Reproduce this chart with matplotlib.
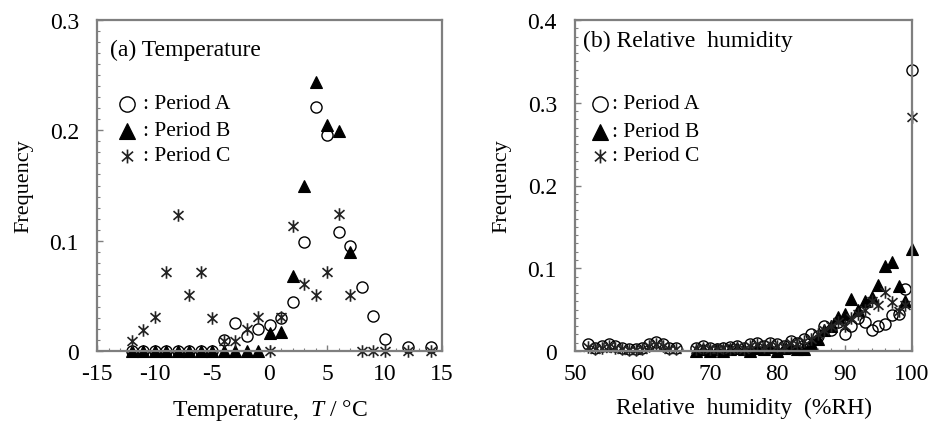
import matplotlib
matplotlib.use("Agg")
import matplotlib.pyplot as plt
import numpy as np
from matplotlib.path import Path
from matplotlib.ticker import MultipleLocator, FuncFormatter

plt.rcParams['font.family'] = ['Liberation Serif', 'DejaVu Serif']
plt.rcParams['axes.unicode_minus'] = False
plt.rcParams['mathtext.fontset'] = 'custom'
plt.rcParams['mathtext.it'] = 'Liberation Serif:italic'
plt.rcParams['mathtext.rm'] = 'Liberation Serif'

# ---------------- data: temperature ----------------
temp_x_A = [-12, -11, -10, -9, -8, -7, -6, -5, -4, -3, -2, -1, 0, 1, 2, 3, 4, 5, 6, 7, 8, 9, 10, 12, 14]
temp_A = [0, 0, 0, 0, 0, 0, 0, 0, 0.010, 0.025, 0.014, 0.020, 0.024, 0.030, 0.044, 0.099, 0.221, 0.196,
          0.108, 0.095, 0.058, 0.032, 0.011, 0.004, 0.004]
temp_x_B = [-12, -11, -10, -9, -8, -7, -6, -5, -4, -3, -2, -1, 0, 1, 2, 3, 4, 5, 6, 7]
temp_B = [0, 0, 0, 0, 0, 0, 0, 0, 0, 0, 0, 0, 0.016, 0.017, 0.068, 0.150, 0.244, 0.205, 0.199, 0.090]
temp_x_C = [-12, -11, -10, -9, -8, -7, -6, -5, -4, -3, -2, -1, 0, 1, 2, 3, 4, 5, 6, 7, 8, 9, 10, 12, 14]
temp_C = [0.009, 0.019, 0.031, 0.072, 0.123, 0.051, 0.072, 0.030, 0.009, 0.009, 0.020, 0.031, 0.0, 0.031,
          0.113, 0.061, 0.051, 0.072, 0.124, 0.051, 0, 0, 0, 0, 0]

# ---------------- data: relative humidity ----------------
rh_x_low = [52, 53, 54, 55, 56, 57, 58, 59, 60, 61, 62, 63, 64, 65]
rh_x_high = list(range(68, 101))
rh_A_low = [0.008, 0.004, 0.006, 0.009, 0.006, 0.004, 0.002, 0.002, 0.004, 0.008, 0.011, 0.008, 0.004, 0.004]
rh_C_low = [0.005, 0.002, 0.004, 0.006, 0.004, 0.002, 0.001, 0.001, 0.002, 0.006, 0.008, 0.006, 0.002, 0.002]
rh_A_high = [0.004, 0.006, 0.004, 0.003, 0.004, 0.005, 0.006, 0.004, 0.008, 0.010, 0.006, 0.010, 0.008,
             0.006, 0.012, 0.010, 0.014, 0.020, 0.018, 0.030, 0.025, 0.035, 0.020, 0.030, 0.040, 0.035,
             0.025, 0.030, 0.033, 0.043, 0.045, 0.075, 0.340]
rh_B_high = [0.0, 0.002, 0.0, 0.002, 0.0, 0.002, 0.004, 0.002, 0.0, 0.004, 0.002, 0.005, 0.0, 0.004,
             0.005, 0.002, 0.002, 0.010, 0.015, 0.025, 0.030, 0.041, 0.045, 0.063, 0.049, 0.060, 0.065,
             0.080, 0.103, 0.107, 0.079, 0.060, 0.123]
rh_C_high = [0.002, 0.004, 0.002, 0.003, 0.004, 0.003, 0.005, 0.003, 0.006, 0.008, 0.005, 0.008, 0.006,
             0.005, 0.010, 0.008, 0.012, 0.015, 0.020, 0.025, 0.030, 0.035, 0.030, 0.040, 0.045, 0.050,
             0.060, 0.055, 0.071, 0.059, 0.048, 0.055, 0.283]

legend_labels = [': Period A', ': Period B', ': Period C']

# custom asterisk marker (vertical + X)
ast = Path([(0, -1), (0, 1), (-0.8, -0.7), (0.8, 0.7), (-0.8, 0.7), (0.8, -0.7)],
           [Path.MOVETO, Path.LINETO, Path.MOVETO, Path.LINETO, Path.MOVETO, Path.LINETO])

styleA = dict(marker='o', ms=8, mfc='none', mec='black', mew=1.0, ls='none', clip_on=False)
styleB = dict(marker='^', ms=8.5, mfc='black', mec='black', mew=0.8, ls='none', clip_on=False)
styleC = dict(marker=ast, ms=9, mfc='none', mec='#222222', mew=1.2, ls='none', clip_on=False)

fig = plt.figure(figsize=(9.31, 4.35), dpi=100)
ax1 = fig.add_axes([97/931, 1-352/435, 345/931, 331/435])
ax2 = fig.add_axes([575/931, 1-352/435, 337/931, 331/435])

gray = '#7f7f7f'

def fmt(v, pos):
    if abs(v) < 1e-9:
        return '0'
    return ('%g' % round(v, 3))

for ax in (ax1, ax2):
    for s in ax.spines.values():
        s.set_color(gray)
        s.set_linewidth(1.6)
    ax.tick_params(which='both', direction='in', colors=gray, labelcolor='black', labelsize=17)
    ax.tick_params(which='major', length=4, width=1)
    ax.tick_params(which='minor', length=2.5, width=0.8)
    ax.tick_params(axis='y', pad=13)
    ax.tick_params(axis='x', pad=9)
    ax.yaxis.set_major_formatter(FuncFormatter(fmt))
    ax.set_ylabel('Frequency', fontsize=16, labelpad=12)

# ---- panel (a) ----
ax1.plot(temp_x_A, temp_A, **styleA)
ax1.plot(temp_x_B, temp_B, **styleB)
ax1.plot(temp_x_C, temp_C, **styleC)
ax1.set_xlim(-15, 15)
ax1.set_ylim(0, 0.3)
ax1.xaxis.set_major_locator(MultipleLocator(5))
ax1.xaxis.set_minor_locator(MultipleLocator(1))
ax1.yaxis.set_major_locator(MultipleLocator(0.1))
ax1.yaxis.set_minor_locator(MultipleLocator(0.01))
ax1.set_xlabel('Temperature,  $T$ / °C', fontsize=17, labelpad=9)
ax1.text(0.038, 0.912, '(a) Temperature', transform=ax1.transAxes, fontsize=17, va='center', ha='left')

# ---- panel (b) ----
ax2.plot(rh_x_low, rh_A_low, **styleA)
ax2.plot(rh_x_high, rh_A_high, **styleA)
ax2.plot(rh_x_high, rh_B_high, **styleB)
ax2.plot(rh_x_low, rh_C_low, **styleC)
ax2.plot(rh_x_high, rh_C_high, **styleC)
ax2.set_xlim(50, 100)
ax2.set_ylim(0, 0.4)
ax2.xaxis.set_major_locator(MultipleLocator(10))
ax2.xaxis.set_minor_locator(MultipleLocator(2))
ax2.yaxis.set_major_locator(MultipleLocator(0.1))
ax2.yaxis.set_minor_locator(MultipleLocator(0.01))
ax2.set_xlabel('Relative  humidity  (%RH)', fontsize=17, labelpad=9)
ax2.text(0.024, 0.937, '(b) Relative  humidity', transform=ax2.transAxes, fontsize=17, va='center', ha='left')

# ---- legends (drawn manually inside axes) ----
def draw_legend(ax, mx, tx, ys):
    leg_styles = [dict(styleA, ms=11), dict(styleB, ms=11.5), dict(styleC, ms=10)]
    for st, lab, yy in zip(leg_styles, legend_labels, ys):
        ax.plot([mx], [yy], transform=ax.transAxes, **st)
        ax.text(tx, yy, lab, transform=ax.transAxes, fontsize=15.5, va='center', ha='left')

draw_legend(ax1, (127-97)/345, (143-97)/345, [(352-105)/331, (352-132)/331, (352-157)/331])
draw_legend(ax2, (600-575)/337, (612-575)/337, [(352-105)/331, (352-133)/331, (352-157)/331])

fig.savefig('out.png', dpi=100)
